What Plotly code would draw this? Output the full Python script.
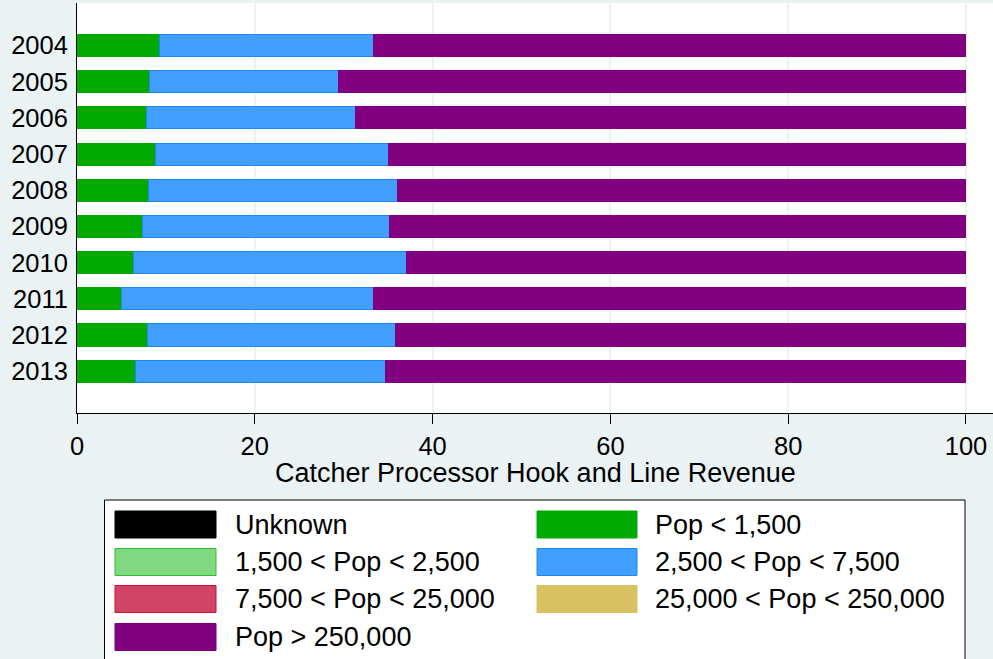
import plotly.graph_objects as go

years = ["2004", "2005", "2006", "2007", "2008", "2009", "2010", "2011", "2012", "2013"]

unknown = [0, 0, 0, 0, 0, 0, 0, 0, 0, 0]
pop_lt_1500 = [9.3, 8.2, 7.8, 8.85, 8.0, 7.4, 6.4, 4.95, 7.9, 6.6]
pop_1500_2500 = [0, 0, 0, 0, 0, 0, 0, 0, 0, 0]
pop_2500_7500 = [24.1, 21.2, 23.5, 26.15, 28.0, 27.7, 30.7, 28.45, 27.9, 28.1]
pop_7500_25000 = [0, 0, 0, 0, 0, 0, 0, 0, 0, 0]
pop_25000_250000 = [0, 0, 0, 0, 0, 0, 0, 0, 0, 0]
pop_gt_250000 = [66.6, 70.6, 68.7, 65.0, 64.0, 64.9, 62.9, 66.6, 64.2, 65.3]

names = ["Unknown", "Pop < 1,500", "1,500 < Pop < 2,500", "2,500 < Pop < 7,500",
         "7,500 < Pop < 25,000", "25,000 < Pop < 250,000", "Pop > 250,000"]
series = [unknown, pop_lt_1500, pop_1500_2500, pop_2500_7500,
          pop_7500_25000, pop_25000_250000, pop_gt_250000]
colors = ["#000000", "#00AA00", "#80D880", "#409FFF", "#D14466", "#D9C262", "#800080"]
edges = ["#000000", "#00AA00", "#33BB33", "#1E88F0", "#CC1133", "#D9C262", "#800080"]
x_title = "Catcher Processor Hook and Line Revenue"

FONT = "Liberation Sans, Arial, sans-serif"
W, H = 993, 659
ML, MR, MT, MB = 77, 0, 3, 246

fig = go.Figure()
for name, vals, c, e in zip(names, series, colors, edges):
    fig.add_trace(go.Bar(
        y=years,
        x=vals,
        name=name,
        orientation="h",
        marker=dict(color=c, line=dict(color=e, width=1)),
        showlegend=False,
    ))


# pixel -> paper helpers for the hand-made legend
def px_x(p):
    return (p - ML) / (W - ML - MR)


def px_y(p):
    return (H - MB - p) / (H - MT - MB)


shapes = [dict(type="rect", xref="paper", yref="paper",
               x0=px_x(104.5), x1=px_x(965), y0=px_y(680), y1=px_y(500),
               fillcolor="white", line=dict(color="black", width=1), layer="below")]
annotations = [dict(xref="paper", yref="paper", x=0.5, y=px_y(473),
                    text=x_title, showarrow=False, xanchor="center", yanchor="middle",
                    font=dict(size=27, color="black", family=FONT))]
col_x = [(115, 216, 233), (537, 637, 653)]
row_y = [524.5, 562, 599, 637]
for i, (name, c, e) in enumerate(zip(names, colors, edges)):
    sx0, sx1, tx = col_x[i % 2]
    cy = row_y[i // 2]
    shapes.append(dict(type="rect", xref="paper", yref="paper",
                       x0=px_x(sx0), x1=px_x(sx1), y0=px_y(cy + 13.5), y1=px_y(cy - 13.5),
                       fillcolor=c, line=dict(color=e, width=1)))
    annotations.append(dict(xref="paper", yref="paper", x=px_x(tx), y=px_y(cy),
                            text=name, showarrow=False, xanchor="left", yanchor="middle",
                            font=dict(size=27, color="black", family=FONT)))

fig.update_layout(
    barmode="stack",
    bargap=0.39,
    width=W,
    height=H,
    margin=dict(l=ML, r=MR, t=MT, b=MB),
    paper_bgcolor="#EAF2F3",
    plot_bgcolor="white",
    font=dict(family=FONT, size=26, color="black"),
    shapes=shapes,
    annotations=annotations,
    xaxis=dict(
        range=[0, 103.04],
        tickvals=[0, 20, 40, 60, 80, 100],
        ticks="outside",
        ticklen=10,
        tickcolor="black",
        showline=True,
        linecolor="black",
        linewidth=1,
        showgrid=True,
        gridcolor="#EAF2F3",
        gridwidth=1.5,
        zeroline=False,
        tickfont=dict(size=25.5),
    ),
    yaxis=dict(
        categoryorder="array",
        categoryarray=years,
        range=[10.155, -1.174],
        showline=True,
        linecolor="black",
        linewidth=1,
        showgrid=False,
        ticks="",
        ticklabelstandoff=3,
        tickfont=dict(size=25.5),
    ),
)

# drop the page margin so the figure fills the window like the original image
fig.write_html("out.html", config={"displayModeBar": False},
               post_script="document.body.style.margin='0';")
